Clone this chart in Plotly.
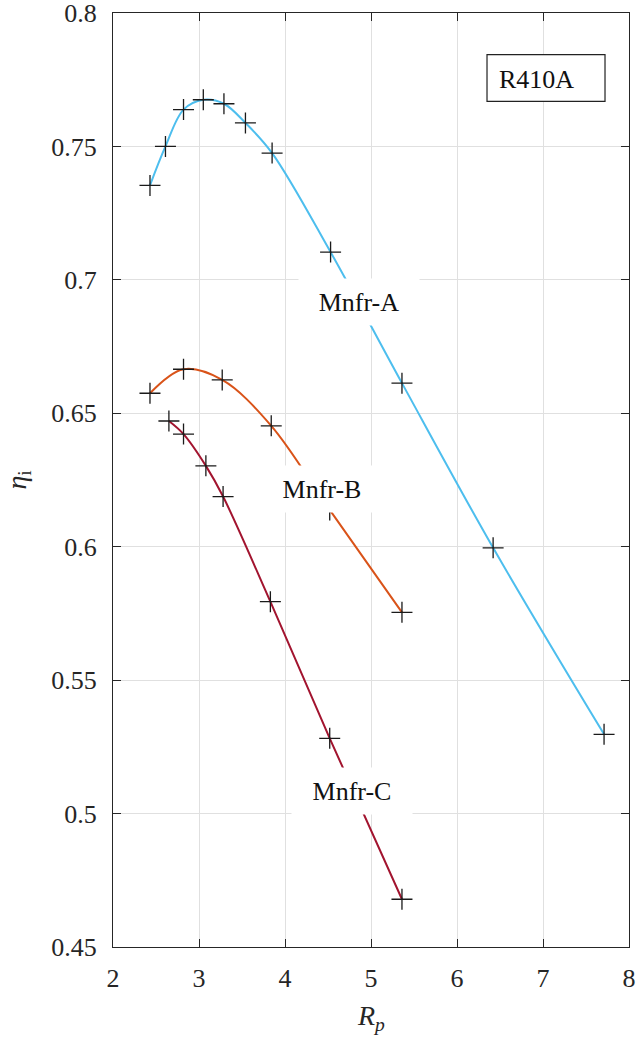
import plotly.graph_objects as go

# Data
rp_a = [2.43, 2.61, 2.82, 3.05, 3.29, 3.54, 3.85, 4.53, 5.36, 6.42, 7.71]
eta_a = [0.7354, 0.7500, 0.7638, 0.7675, 0.7660, 0.7588, 0.7475, 0.7104, 0.6613, 0.5996, 0.5297]

rp_b = [2.43, 2.82, 3.27, 3.84, 4.52, 5.36]
eta_b = [0.6575, 0.6665, 0.6625, 0.6453, 0.6138, 0.5754]

rp_c = [2.65, 2.82, 3.08, 3.28, 3.83, 4.52, 5.36]
eta_c = [0.6471, 0.6422, 0.6303, 0.6188, 0.5794, 0.5282, 0.4679]

series_names = ["Mnfr-A", "Mnfr-B", "Mnfr-C"]
series_colors = ["#4DBEEE", "#D95319", "#A2142F"]
label_pos = [(4.86, 0.6918), (4.434, 0.6218), (4.779, 0.5084)]

x_ticks = [2, 3, 4, 5, 6, 7, 8]
y_ticks = [0.45, 0.5, 0.55, 0.6, 0.65, 0.7, 0.75, 0.8]

FONT = "Liberation Serif"
AX = "#262626"

fig = go.Figure()
for xs, ys, name, col in zip([rp_a, rp_b, rp_c], [eta_a, eta_b, eta_c], series_names, series_colors):
    fig.add_trace(go.Scatter(x=xs, y=ys, mode="lines", name=name,
                             line=dict(color=col, width=2, shape="spline", smoothing=1.0),
                             showlegend=False, hoverinfo="skip"))
for xs, ys, name in zip([rp_a, rp_b, rp_c], [eta_a, eta_b, eta_c], series_names):
    fig.add_trace(go.Scatter(x=xs, y=ys, mode="markers", name=name,
                             marker=dict(symbol="cross-thin", size=15,
                                         line=dict(color="#1a1a1a", width=1.3)),
                             showlegend=False))

for name, (lx, ly) in zip(series_names, label_pos):
    fig.add_annotation(x=lx, y=ly, xref="x", yref="y", text=name, showarrow=False,
                       font=dict(family=FONT, size=26, color="#111111"),
                       bgcolor="white", width=108, height=34, borderpad=6,
                       xanchor="center", yanchor="middle")

# R410A box
fig.add_shape(type="rect", xref="x", yref="y", x0=6.349, x1=7.721, y0=0.7669, y1=0.7844,
              line=dict(color="#222222", width=1.2), fillcolor="white", layer="above")
fig.add_annotation(x=6.465, y=0.7752, xref="x", yref="y", text="R410A", showarrow=False,
                   font=dict(family=FONT, size=26, color="#111111"),
                   xanchor="left", yanchor="middle")

# axis titles
fig.add_annotation(x=0.5, y=-0.055, xref="paper", yref="paper",
                   text="<i>R</i><sub><i>p</i></sub>", showarrow=False,
                   font=dict(family=FONT, size=28, color=AX),
                   xanchor="center", yanchor="top")
fig.add_annotation(x=-0.185, y=0.5, xref="paper", yref="paper",
                   text="<i>η</i><sub>i</sub>", showarrow=False, textangle=-90,
                   font=dict(family=FONT, size=28, color=AX),
                   xanchor="center", yanchor="middle")

axis_common = dict(showline=True, linecolor=AX, linewidth=1, mirror="ticks",
                   ticks="inside", ticklen=8, tickcolor=AX, tickwidth=1,
                   showgrid=True, gridcolor="#e0e0e0", gridwidth=1, zeroline=False,
                   ticklabeloverflow="allow", automargin=False,
                   tickfont=dict(family=FONT, size=26, color=AX))

fig.update_xaxes(range=[2, 8], tickvals=x_ticks, ticktext=[str(v) for v in x_ticks],
                 ticklabelstandoff=8, **axis_common)
fig.update_yaxes(range=[0.45, 0.8], tickvals=y_ticks, ticktext=[f"{v:g}" for v in y_ticks],
                 ticklabelstandoff=10, **axis_common)

fig.update_layout(width=641, height=1042, plot_bgcolor="white", paper_bgcolor="white",
                  margin=dict(l=113, r=12, t=13, b=95), showlegend=False)

fig.write_html("out.html", config={"displayModeBar": False},
               post_script="document.body.style.margin='0';document.body.style.overflow='hidden';")
